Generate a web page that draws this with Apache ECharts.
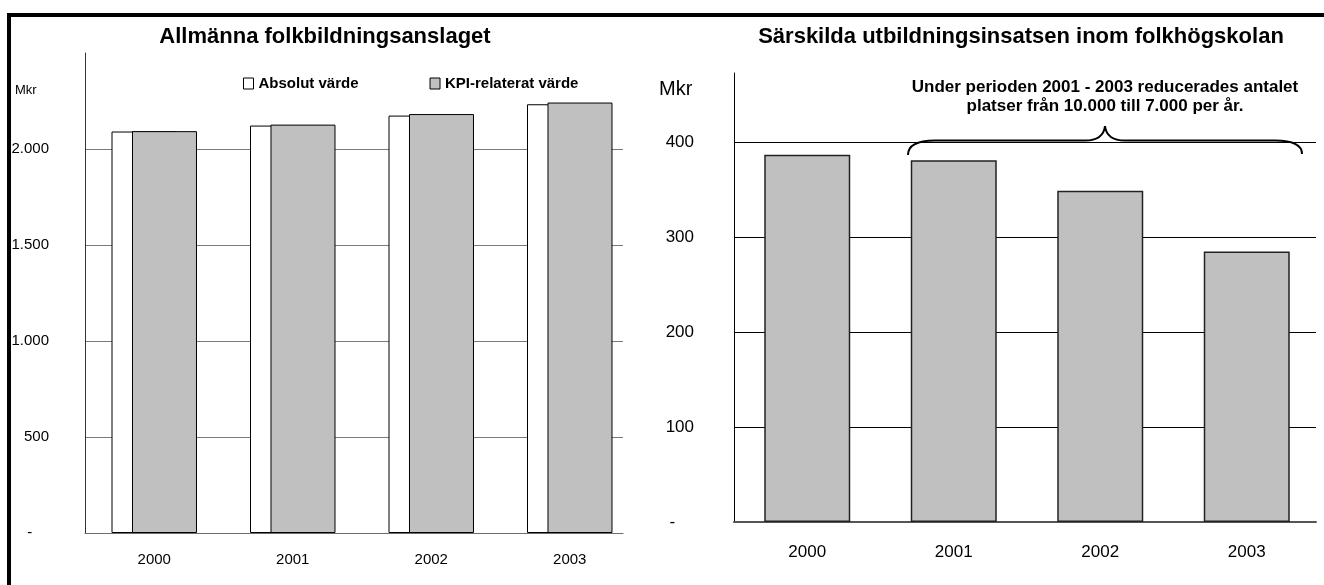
<!DOCTYPE html>
<html>
<head>
<meta charset="utf-8">
<script src="https://cdn.jsdelivr.net/npm/echarts@6/dist/echarts.min.js"></script>
<style>
html,body{margin:0;padding:0;background:#fff;}
#c{width:1324px;height:585px;}
</style>
</head>
<body>
<div id="c"></div>
<script>
// ---- data ----
const years = ['2000', '2001', '2002', '2003'];
const absolutVarde = [2091, 2122, 2174, 2233];
const kpiRelateratVarde = [2093, 2127, 2182, 2242];
const sarskildaInsatsen = [387, 381, 349, 285];
const seriesNames = ['Absolut värde', 'KPI-relaterat värde', 'Särskilda utbildningsinsatsen'];
const leftTitle = 'Allmänna folkbildningsanslaget';
const rightTitle = 'Särskilda utbildningsinsatsen inom folkhögskolan';
const noteLines = ['Under perioden 2001 - 2003 reducerades antalet', 'platser från 10.000 till 7.000 per år.'];
const unitLabel = 'Mkr';
const leftAxis = { max: 2500, gridMax: 2000, interval: 500 };
const rightAxis = { max: 473, gridMax: 400, interval: 100 };

const FONT = "'Liberation Sans', Arial, Helvetica, sans-serif";

function fmtLeft(v) {
  if (v === 0) return '-    ';
  return String(v).replace(/\B(?=(\d{3})+(?!\d))/g, '.');
}
function fmtRight(v) {
  if (v === 0) return '-    ';
  return String(v);
}

const chart = echarts.init(document.getElementById('c'), null, { renderer: 'canvas' });

const braceStyle = { stroke: '#000', lineWidth: 2, fill: null };

const option = {
  animation: false,
  backgroundColor: '#fff',
  textStyle: { fontFamily: FONT, color: '#000' },
  grid: [
    { left: 85, top: 53, width: 554, height: 480, outerBoundsMode: 'none', containLabel: false },
    { left: 85, top: 149, width: 538, height: 384, outerBoundsMode: 'none', containLabel: false },
    { left: 734, top: 73, width: 586, height: 449, outerBoundsMode: 'none', containLabel: false },
    { left: 734, top: 142, width: 582, height: 380, outerBoundsMode: 'none', containLabel: false }
  ],
  legend: {
    data: [seriesNames[0], seriesNames[1]],
    left: 243, top: 76,
    padding: 0,
    icon: 'rect',
    itemWidth: 10, itemHeight: 11, itemGap: 71,
    selectedMode: false,
    itemStyle: { borderColor: '#000', borderWidth: 1 },
    textStyle: { fontFamily: FONT, fontWeight: 'bold', fontSize: 15, color: '#000' }
  },
  xAxis: [
    { gridIndex: 0, type: 'category', data: years,
      axisLine: { show: false }, axisTick: { show: false },
      axisLabel: { fontSize: 15, margin: 19, color: '#000', fontFamily: FONT } },
    { gridIndex: 1, type: 'category', data: years,
      axisLine: { show: true, lineStyle: { color: '#6e6e6e', width: 1 } }, axisTick: { show: false },
      axisLabel: { show: false } },
    { gridIndex: 2, type: 'category', data: years,
      axisLine: { show: false }, axisTick: { show: false },
      axisLabel: { fontSize: 17, margin: 22, color: '#000', fontFamily: FONT } },
    { gridIndex: 3, type: 'category', data: years,
      axisLine: { show: true, lineStyle: { color: '#555', width: 2 } }, axisTick: { show: false },
      axisLabel: { show: false } }
  ],
  yAxis: [
    { gridIndex: 0, type: 'value', min: 0, max: leftAxis.max, interval: leftAxis.interval,
      axisLine: { show: true, lineStyle: { color: '#333', width: 1 } }, axisTick: { show: false },
      splitLine: { show: false }, axisLabel: { show: false } },
    { gridIndex: 1, type: 'value', min: 0, max: leftAxis.gridMax, interval: leftAxis.interval,
      axisLine: { show: false }, axisTick: { show: false },
      splitLine: { show: true, lineStyle: { color: '#7a7a7a', width: 1 } },
      axisLabel: { formatter: fmtLeft, fontSize: 15, margin: 36, color: '#000', fontFamily: FONT } },
    { gridIndex: 2, type: 'value', min: 0, max: rightAxis.max,
      axisLine: { show: true, lineStyle: { color: '#000', width: 1 } }, axisTick: { show: false },
      splitLine: { show: false }, axisLabel: { show: false } },
    { gridIndex: 3, type: 'value', min: 0, max: rightAxis.gridMax, interval: rightAxis.interval,
      axisLine: { show: false }, axisTick: { show: false },
      splitLine: { show: true, lineStyle: { color: '#000', width: 1 } },
      axisLabel: { formatter: fmtRight, fontSize: 17, margin: 40, color: '#000', fontFamily: FONT } }
  ],
  series: [
    { name: seriesNames[0], type: 'bar', xAxisIndex: 0, yAxisIndex: 0, data: absolutVarde,
      barWidth: 65, barGap: '-68.5%',
      itemStyle: { color: '#ffffff', borderColor: '#000', borderWidth: 1 } },
    { name: seriesNames[1], type: 'bar', xAxisIndex: 0, yAxisIndex: 0, data: kpiRelateratVarde,
      barWidth: 65, barGap: '-68.5%',
      itemStyle: { color: '#c0c0c0', borderColor: '#000', borderWidth: 1 } },
    { name: seriesNames[2], type: 'bar', xAxisIndex: 2, yAxisIndex: 2, data: sarskildaInsatsen,
      barWidth: 86,
      itemStyle: { color: '#c0c0c0', borderColor: '#222', borderWidth: 1.5 } }
  ],
  graphic: [
    { type: 'rect', shape: { x: 7, y: 13, width: 1317, height: 4 }, style: { fill: '#000' }, silent: true },
    { type: 'rect', shape: { x: 7, y: 13, width: 4, height: 572 }, style: { fill: '#000' }, silent: true },
    { type: 'text', x: 325, y: 37, style: { text: leftTitle, fontFamily: FONT, fontWeight: 'bold', fontSize: 22, fill: '#000', align: 'center', verticalAlign: 'middle' } },
    { type: 'text', x: 1021, y: 37, style: { text: rightTitle, fontFamily: FONT, fontWeight: 'bold', fontSize: 22, fill: '#000', align: 'center', verticalAlign: 'middle' } },
    { type: 'text', x: 15, y: 90, style: { text: unitLabel, fontFamily: FONT, fontSize: 13, fill: '#000', align: 'left', verticalAlign: 'middle' } },
    { type: 'text', x: 659, y: 89, style: { text: unitLabel, fontFamily: FONT, fontSize: 20, fill: '#000', align: 'left', verticalAlign: 'middle' } },
    { type: 'text', x: 1105, y: 87, style: { text: noteLines[0], fontFamily: FONT, fontWeight: 'bold', fontSize: 17, fill: '#000', align: 'center', verticalAlign: 'middle' } },
    { type: 'text', x: 1105, y: 106, style: { text: noteLines[1], fontFamily: FONT, fontWeight: 'bold', fontSize: 17, fill: '#000', align: 'center', verticalAlign: 'middle' } },
    // curly brace annotation
    { type: 'bezierCurve', shape: { x1: 908, y1: 155, cpx1: 908, cpy1: 146, cpx2: 916, cpy2: 140.5, x2: 935, y2: 140.5 }, style: braceStyle },
    { type: 'line', shape: { x1: 935, y1: 140.5, x2: 1085, y2: 140.5 }, style: braceStyle },
    { type: 'bezierCurve', shape: { x1: 1085, y1: 140.5, cpx1: 1098, cpy1: 140.5, cpx2: 1104, cpy2: 135, x2: 1105, y2: 126 }, style: braceStyle },
    { type: 'bezierCurve', shape: { x1: 1105, y1: 126, cpx1: 1106, cpy1: 135, cpx2: 1112, cpy2: 140.5, x2: 1125, y2: 140.5 }, style: braceStyle },
    { type: 'line', shape: { x1: 1125, y1: 140.5, x2: 1275, y2: 140.5 }, style: braceStyle },
    { type: 'bezierCurve', shape: { x1: 1275, y1: 140.5, cpx1: 1294, cpy1: 140.5, cpx2: 1302, cpy2: 145, x2: 1302, y2: 154 }, style: braceStyle }
  ]
};

chart.setOption(option);
</script>
</body>
</html>
